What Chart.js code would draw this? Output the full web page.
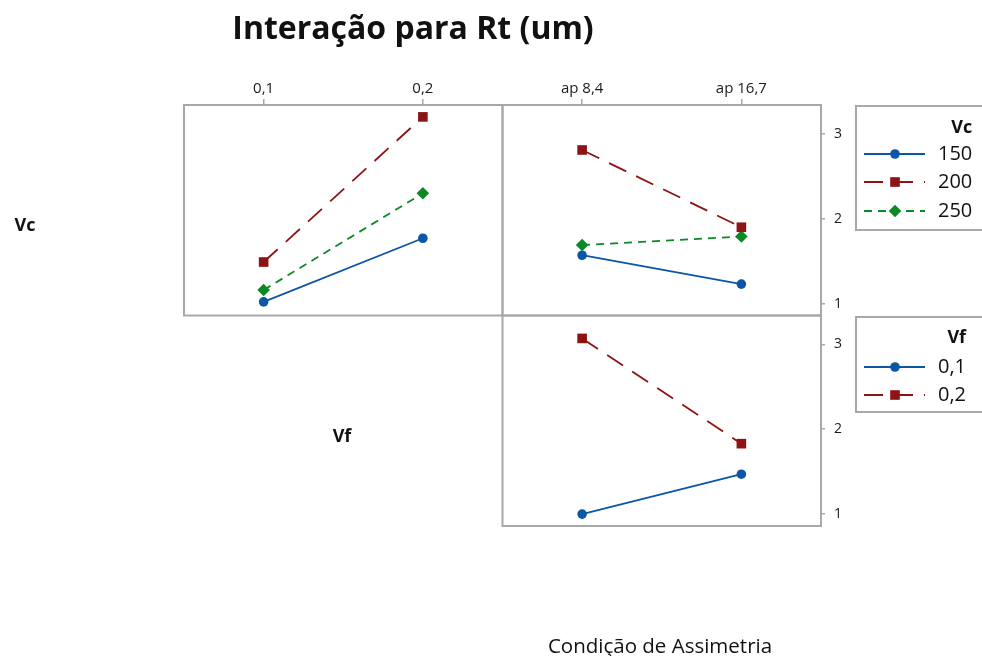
<!DOCTYPE html>
<html><head><meta charset="utf-8">
<script src="https://cdn.jsdelivr.net/npm/chart.js@4.4.1/dist/chart.umd.min.js"></script>
<style>
html,body{margin:0;padding:0;background:#fff;}
#wrap{position:relative;width:982px;height:656px;overflow:hidden;background:#fff;}
canvas{position:absolute;left:0;top:0;}
.lbl{position:absolute;font-family:"Open Sans",sans-serif;color:#111;white-space:nowrap;transform:translate(-50%,-50%);line-height:1;}
</style></head>
<body><div id="wrap">
<canvas id="c" width="982" height="656"></canvas>
<div class="lbl" style="left:413px;top:27px;font-size:32px;font-weight:700;">Interação para Rt (um)</div>
<div class="lbl" style="left:25px;top:224px;font-size:18px;font-weight:700;">Vc</div>
<div class="lbl" style="left:342px;top:435px;font-size:18px;font-weight:700;">Vf</div>
<div class="lbl" style="left:660px;top:645px;font-size:20.5px;">Condição de Assimetria</div>
</div>
<script>
// ---- data ----
const vfLabels = ['0,1', '0,2'];
const condLabels = ['ap 8,4', 'ap 16,7'];
const vcLevels = ['150', '200', '250'];
const vfLevels = ['0,1', '0,2'];
const yTicks = [1, 2, 3];
// Top-left panel: Rt mean for each Vc at Vf = 0,1 / 0,2
const vc150ByVf = [1.02, 1.77];
const vc200ByVf = [1.49, 3.20];
const vc250ByVf = [1.16, 2.30];
// Top-right panel: Rt mean for each Vc at ap 8,4 / ap 16,7
const vc150ByCond = [1.57, 1.23];
const vc200ByCond = [2.81, 1.90];
const vc250ByCond = [1.69, 1.79];
// Bottom-right panel: Rt mean for each Vf at ap 8,4 / ap 16,7
const vf01ByCond = [1.00, 1.47];
const vf02ByCond = [3.07, 1.83];

// ---- styles ----
const BLUE = '#0b56a6', RED = '#8c1414', GREEN = '#0a8a22';
const sBlue = {color: BLUE, pointStyle: 'circle', radius: 4.8, dash: []};
const sRed = {color: RED, pointStyle: 'rect', radius: 6.8, dash: [19, 11]};
const sGreen = {color: GREEN, pointStyle: 'rectRot', radius: 6.3, dash: [8, 6]};

function ds(label, data, st, xID, yID, group) {
  return {
    label, data, group,
    borderColor: st.color, backgroundColor: st.color,
    pointBackgroundColor: st.color, pointBorderColor: st.color,
    pointStyle: st.pointStyle, pointRadius: st.radius, pointHoverRadius: st.radius,
    pointBorderWidth: 0,
    borderWidth: 1.8, borderDash: st.dash,
    xAxisID: xID, yAxisID: yID, fill: false, tension: 0, clip: false
  };
}

const datasets = [
  ds(vcLevels[0], vc150ByVf, sBlue, 'xVf', 'yTop', 'vc'),
  ds(vcLevels[1], vc200ByVf, sRed, 'xVf', 'yTop', 'vc'),
  ds(vcLevels[2], vc250ByVf, sGreen, 'xVf', 'yTop', 'vc'),
  ds(vcLevels[0], vc150ByCond, sBlue, 'xCond', 'yTop', 'vc2'),
  ds(vcLevels[1], vc200ByCond, sRed, 'xCond', 'yTop', 'vc2'),
  ds(vcLevels[2], vc250ByCond, sGreen, 'xCond', 'yTop', 'vc2'),
  ds(vfLevels[0], vf01ByCond, sBlue, 'xCond', 'yBot', 'vf'),
  ds(vfLevels[1], vf02ByCond, sRed, 'xCond', 'yBot', 'vf')
];

const FONT = '"Open Sans", sans-serif';
const GRAY = '#a8a8a8';
const tickFont = {family: FONT, size: 15};

function xScale(labels) {
  return {
    type: 'category', axis: 'x', labels, offset: true, position: 'top',
    stack: 'cols', stackWeight: 1,
    grid: {drawOnChartArea: false, drawTicks: true, tickLength: 6, color: GRAY, lineWidth: 1.5},
    border: {display: false},
    ticks: {font: tickFont, color: '#1a1a1a', padding: 1, maxRotation: 0, autoSkip: false},
    afterFit(s) { s.height = 30; }
  };
}
function yScale() {
  return {
    type: 'linear', axis: 'y', position: 'right', stack: 'rows', stackWeight: 1,
    min: 0.86, max: 3.34,
    afterBuildTicks(s) { s.ticks = yTicks.map(v => ({value: v})); },
    grid: {drawOnChartArea: false, drawTicks: true, tickLength: 4, color: GRAY, lineWidth: 1.5},
    border: {display: false},
    ticks: {font: {family: FONT, size: 14}, color: '#1a1a1a', padding: 9},
    afterFit(s) { s.width = 30; }
  };
}

const framePlugin = {
  id: 'frames',
  beforeDatasetsDraw(chart) {
    const ctx = chart.ctx, sc = chart.scales;
    const panels = [['xVf', 'yTop'], ['xCond', 'yTop'], ['xCond', 'yBot']];
    ctx.save();
    ctx.strokeStyle = GRAY; ctx.lineWidth = 2;
    panels.forEach(([x, y]) => {
      const xs = sc[x], ys = sc[y];
      ctx.strokeRect(xs.left, ys.top, xs.right - xs.left, ys.bottom - ys.top);
    });
    ctx.restore();
  }
};

const legendPlugin = {
  id: 'sideLegends',
  afterDraw(chart) {
    const ctx = chart.ctx;
    const boxes = [
      {title: 'Vc', group: 'vc', top: 106, height: 124, titleY: 128, rowY: [154, 182, 211]},
      {title: 'Vf', group: 'vf', top: 317, height: 95, titleY: 338, rowY: [367, 395]}
    ];
    const left = 856, lineX0 = 864, lineX1 = 925, markX = 895, textX = 938;
    ctx.save();
    boxes.forEach(b => {
      ctx.strokeStyle = GRAY; ctx.lineWidth = 2;
      ctx.strokeRect(left, b.top, 200, b.height);
      const items = chart.data.datasets.filter(d => d.group === b.group);
      ctx.font = '20px ' + FONT;
      const maxW = Math.max(...items.map(d => ctx.measureText(d.label).width));
      items.forEach((d, i) => {
        const y = b.rowY[i];
        ctx.save();
        ctx.strokeStyle = d.borderColor; ctx.lineWidth = 1.8;
        ctx.setLineDash(d.borderDash);
        ctx.beginPath(); ctx.moveTo(lineX0, y); ctx.lineTo(lineX1, y); ctx.stroke();
        ctx.restore();
        ctx.fillStyle = d.borderColor; ctx.strokeStyle = d.borderColor; ctx.lineWidth = 0;
        Chart.helpers.drawPoint(ctx, {pointStyle: d.pointStyle, radius: d.pointRadius, rotation: 0, borderWidth: 0}, markX, y);
        ctx.fillStyle = '#111'; ctx.textAlign = 'left'; ctx.textBaseline = 'middle';
        ctx.font = '20px ' + FONT;
        ctx.fillText(d.label, textX, y);
      });
      ctx.font = 'bold 18px ' + FONT;
      ctx.fillStyle = '#111'; ctx.textAlign = 'right'; ctx.textBaseline = 'middle';
      ctx.fillText(b.title, textX + maxW, b.titleY);
    });
    ctx.restore();
  }
};

new Chart(document.getElementById('c'), {
  type: 'line',
  data: {datasets},
  options: {
    responsive: false, animation: false,
    layout: {padding: {left: 184, top: 75, right: 131, bottom: 130}},
    plugins: {legend: {display: false}, title: {display: false}, tooltip: {enabled: false}},
    scales: {
      xCond: xScale(condLabels),
      xVf: xScale(vfLabels),
      yTop: yScale(),
      yBot: yScale()
    }
  },
  plugins: [framePlugin, legendPlugin]
});
</script>
</body></html>
